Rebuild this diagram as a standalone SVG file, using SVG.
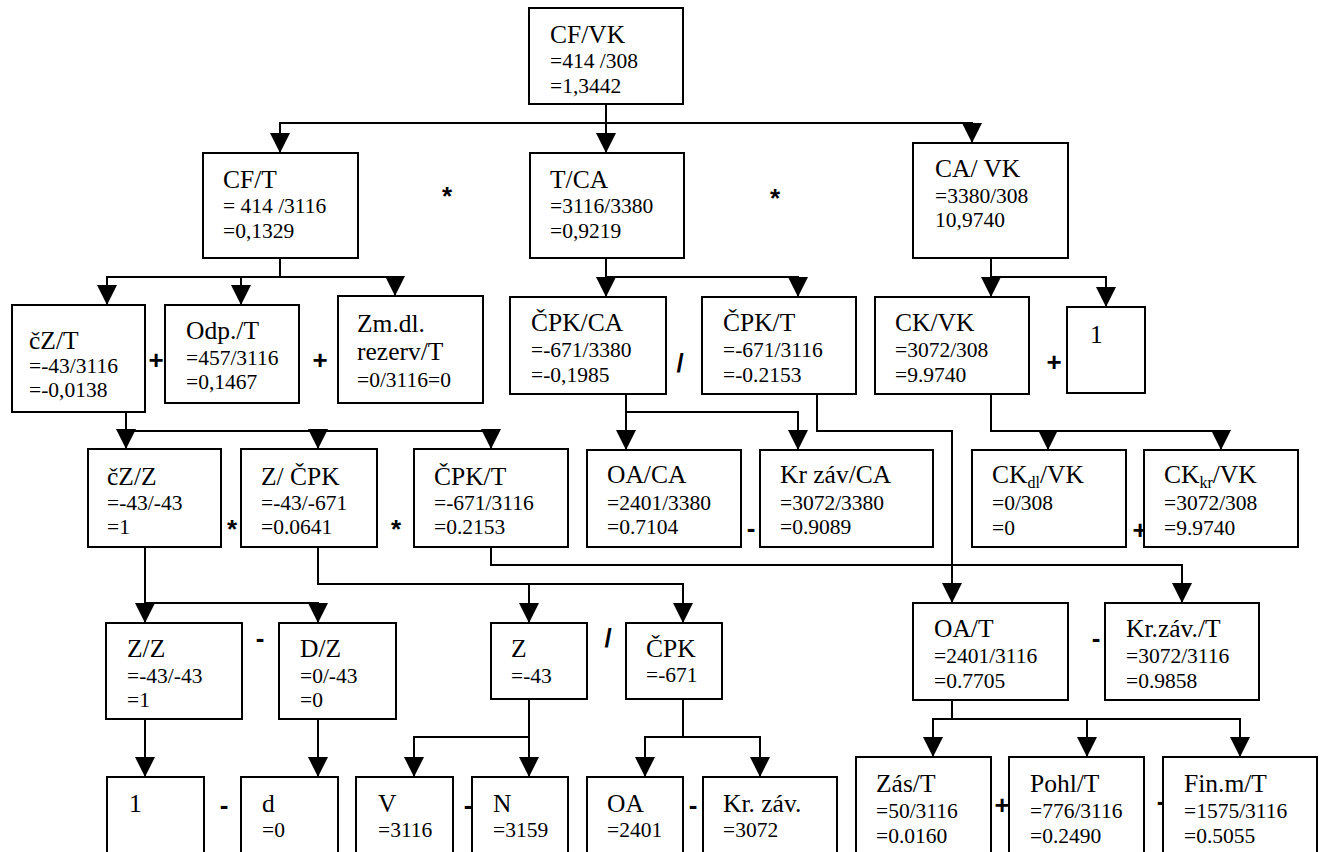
<svg xmlns="http://www.w3.org/2000/svg" width="1325" height="852" viewBox="0 0 1325 852">
<defs>
<marker id="ah" viewBox="0 0 20 20" refX="20" refY="10" markerWidth="20" markerHeight="20" markerUnits="userSpaceOnUse" orient="auto">
<path d="M0,0 L20,10 L0,20 z" fill="#000"/>
</marker>
</defs>
<rect width="1325" height="852" fill="#fff"/>
<g id="operators" font-family="Liberation Sans" font-weight="bold" font-size="26" text-anchor="middle" fill="#000">
<text x="447" y="205">*</text>
<text x="775" y="207">*</text>
<text x="156" y="369">+</text>
<text x="320" y="369">+</text>
<text x="680" y="372">/</text>
<text x="1054" y="371">+</text>
<text x="232" y="538">*</text>
<text x="396" y="538">*</text>
<text x="751" y="537">-</text>
<text x="1140" y="539">+</text>
<text x="260" y="647">-</text>
<text x="608" y="647">/</text>
<text x="1096" y="647">-</text>
<text x="224" y="814">-</text>
<text x="468" y="814">-</text>
<text x="693" y="814">-</text>
<text x="1002" y="814">+</text>
<text x="1161" y="810">-</text>
</g>
<g id="connectors" fill="none" stroke="#000" stroke-width="2">
<path d="M606,104 V153" marker-end="url(#ah)"/>
<path d="M606,123 H280 V153" marker-end="url(#ah)"/>
<path d="M606,123 H972 V143" marker-end="url(#ah)"/>
<path d="M280,258 V277 H107 V305" marker-end="url(#ah)"/>
<path d="M280,277 H241 V305" marker-end="url(#ah)"/>
<path d="M280,277 H395 V296" marker-end="url(#ah)"/>
<path d="M606,258 V297" marker-end="url(#ah)"/>
<path d="M606,277 H798 V297" marker-end="url(#ah)"/>
<path d="M991,258 V297" marker-end="url(#ah)"/>
<path d="M991,277 H1106 V307" marker-end="url(#ah)"/>
<path d="M126,412 V449" marker-end="url(#ah)"/>
<path d="M126,431 H318 V449" marker-end="url(#ah)"/>
<path d="M126,431 H491 V449" marker-end="url(#ah)"/>
<path d="M626,394 V450" marker-end="url(#ah)"/>
<path d="M626,412 H798 V450" marker-end="url(#ah)"/>
<path d="M817,394 V431 H952 V603" marker-end="url(#ah)"/>
<path d="M991,394 V431 H1048 V450" marker-end="url(#ah)"/>
<path d="M991,431 H1221 V450" marker-end="url(#ah)"/>
<path d="M145,547 V623" marker-end="url(#ah)"/>
<path d="M145,603 H318 V623" marker-end="url(#ah)"/>
<path d="M318,547 V584 H683 V623" marker-end="url(#ah)"/>
<path d="M529,584 V623" marker-end="url(#ah)"/>
<path d="M491,547 V565 H1182 V603" marker-end="url(#ah)"/>
<path d="M145,719 V777" marker-end="url(#ah)"/>
<path d="M318,719 V777" marker-end="url(#ah)"/>
<path d="M529,699 V777" marker-end="url(#ah)"/>
<path d="M529,737 H414 V777" marker-end="url(#ah)"/>
<path d="M683,699 V737 H645 V777" marker-end="url(#ah)"/>
<path d="M683,737 H760 V777" marker-end="url(#ah)"/>
<path d="M952,700 V719 H933 V757" marker-end="url(#ah)"/>
<path d="M952,719 H1087 V757" marker-end="url(#ah)"/>
<path d="M952,719 H1240 V757" marker-end="url(#ah)"/>
</g>
<g id="nodes" fill="#fff" stroke="#000" stroke-width="2">
<g id="n-cfvk"><rect x="529" y="8" width="154" height="96"/></g>
<g id="n-cft"><rect x="203" y="153" width="155" height="105"/></g>
<g id="n-tca"><rect x="530" y="153" width="154" height="105"/></g>
<g id="n-cavk"><rect x="913" y="143" width="155" height="115"/></g>
<g id="n-czt"><rect x="12" y="305" width="133" height="107"/></g>
<g id="n-odpt"><rect x="165" y="305" width="134" height="98"/></g>
<g id="n-zmdl"><rect x="338" y="296" width="145" height="107"/></g>
<g id="n-cpkca"><rect x="510" y="297" width="156" height="97"/></g>
<g id="n-cpkt"><rect x="702" y="297" width="154" height="97"/></g>
<g id="n-ckvk"><rect x="875" y="297" width="154" height="97"/></g>
<g id="n-one"><rect x="1067" y="307" width="78" height="86"/></g>
<g id="n-czz"><rect x="88" y="449" width="133" height="98"/></g>
<g id="n-zcpk"><rect x="241" y="449" width="136" height="98"/></g>
<g id="n-cpkt2"><rect x="414" y="449" width="154" height="98"/></g>
<g id="n-oaca"><rect x="587" y="450" width="154" height="97"/></g>
<g id="n-krzavca"><rect x="760" y="450" width="173" height="97"/></g>
<g id="n-ckdl"><rect x="972" y="450" width="154" height="97"/></g>
<g id="n-ckkr"><rect x="1144" y="450" width="154" height="97"/></g>
<g id="n-zz"><rect x="106" y="623" width="136" height="96"/></g>
<g id="n-dz"><rect x="279" y="623" width="117" height="96"/></g>
<g id="n-z"><rect x="491" y="623" width="96" height="76"/></g>
<g id="n-cpk"><rect x="626" y="623" width="96" height="76"/></g>
<g id="n-oat"><rect x="913" y="603" width="155" height="97"/></g>
<g id="n-krzavt"><rect x="1105" y="603" width="154" height="97"/></g>
<g id="n-1b"><rect x="107" y="777" width="97" height="90"/></g>
<g id="n-d"><rect x="241" y="777" width="97" height="90"/></g>
<g id="n-v"><rect x="356" y="777" width="97" height="90"/></g>
<g id="n-n"><rect x="472" y="777" width="96" height="90"/></g>
<g id="n-oa"><rect x="587" y="777" width="96" height="90"/></g>
<g id="n-krzav"><rect x="703" y="777" width="134" height="90"/></g>
<g id="n-zast"><rect x="856" y="757" width="135" height="110"/></g>
<g id="n-pohlt"><rect x="1009" y="757" width="135" height="110"/></g>
<g id="n-finmt"><rect x="1163" y="757" width="154" height="110"/></g>
</g>
<g id="titles" font-family="Liberation Serif" font-size="25.5" fill="#000">
<text x="550" y="43">CF/VK</text>
<text x="223" y="188">CF/T</text>
<text x="550" y="188">T/CA</text>
<text x="935" y="177">CA/ VK</text>
<text x="29" y="349">čZ/T</text>
<text x="186" y="339">Odp./T</text>
<text x="357" y="332">Zm.dl.</text>
<text x="357" y="360">rezerv/T</text>
<text x="531" y="331">ČPK/CA</text>
<text x="723" y="331">ČPK/T</text>
<text x="895" y="331">CK/VK</text>
<text x="1090" y="343">1</text>
<text x="107" y="485">čZ/Z</text>
<text x="261" y="485">Z/ ČPK</text>
<text x="434" y="485">ČPK/T</text>
<text x="607" y="483">OA/CA</text>
<text x="780" y="483">Kr záv/CA</text>
<text x="992" y="483">CK<tspan font-size="16" dy="5">dl</tspan><tspan dy="-5">/VK</tspan></text>
<text x="1164" y="483">CK<tspan font-size="16" dy="5">kr</tspan><tspan dy="-5">/VK</tspan></text>
<text x="127" y="657">Z/Z</text>
<text x="300" y="657">D/Z</text>
<text x="511" y="657">Z</text>
<text x="646" y="657">ČPK</text>
<text x="934" y="637">OA/T</text>
<text x="1126" y="637">Kr.záv./T</text>
<text x="129" y="812">1</text>
<text x="262" y="812">d</text>
<text x="378" y="812">V</text>
<text x="493" y="812">N</text>
<text x="607" y="812">OA</text>
<text x="723" y="812">Kr. záv.</text>
<text x="876" y="792">Zás/T</text>
<text x="1030" y="792">Pohl/T</text>
<text x="1184" y="792">Fin.m/T</text>
</g>
<g id="values" font-family="Liberation Serif" font-size="21.5" fill="#000">
<text x="550" y="68">=414 /308</text><text x="550" y="93">=1,3442</text>
<text x="223" y="213">= 414 /3116</text><text x="223" y="238">=0,1329</text>
<text x="550" y="213">=3116/3380</text><text x="550" y="238">=0,9219</text>
<text x="935" y="203">=3380/308</text><text x="935" y="227">10,9740</text>
<text x="29" y="373">=-43/3116</text><text x="29" y="397">=-0,0138</text>
<text x="186" y="365">=457/3116</text><text x="186" y="389">=0,1467</text>
<text x="357" y="387">=0/3116=0</text>
<text x="531" y="357">=-671/3380</text><text x="531" y="382">=-0,1985</text>
<text x="723" y="357">=-671/3116</text><text x="723" y="382">=-0.2153</text>
<text x="895" y="357">=3072/308</text><text x="895" y="382">=9.9740</text>
<text x="107" y="510">=-43/-43</text><text x="107" y="534">=1</text>
<text x="261" y="510">=-43/-671</text><text x="261" y="534">=0.0641</text>
<text x="434" y="510">=-671/3116</text><text x="434" y="534">=0.2153</text>
<text x="607" y="510">=2401/3380</text><text x="607" y="534">=0.7104</text>
<text x="780" y="510">=3072/3380</text><text x="780" y="534">=0.9089</text>
<text x="992" y="510">=0/308</text><text x="992" y="535">=0</text>
<text x="1164" y="510">=3072/308</text><text x="1164" y="535">=9.9740</text>
<text x="127" y="683">=-43/-43</text><text x="127" y="707">=1</text>
<text x="300" y="683">=0/-43</text><text x="300" y="707">=0</text>
<text x="511" y="683">=-43</text>
<text x="646" y="682">=-671</text>
<text x="934" y="663">=2401/3116</text><text x="934" y="688">=0.7705</text>
<text x="1126" y="663">=3072/3116</text><text x="1126" y="688">=0.9858</text>
<text x="262" y="837">=0</text>
<text x="378" y="837">=3116</text>
<text x="493" y="837">=3159</text>
<text x="607" y="837">=2401</text>
<text x="723" y="837">=3072</text>
<text x="876" y="818">=50/3116</text><text x="876" y="843">=0.0160</text>
<text x="1030" y="818">=776/3116</text><text x="1030" y="843">=0.2490</text>
<text x="1184" y="818">=1575/3116</text><text x="1184" y="843">=0.5055</text>
</g>
</svg>
